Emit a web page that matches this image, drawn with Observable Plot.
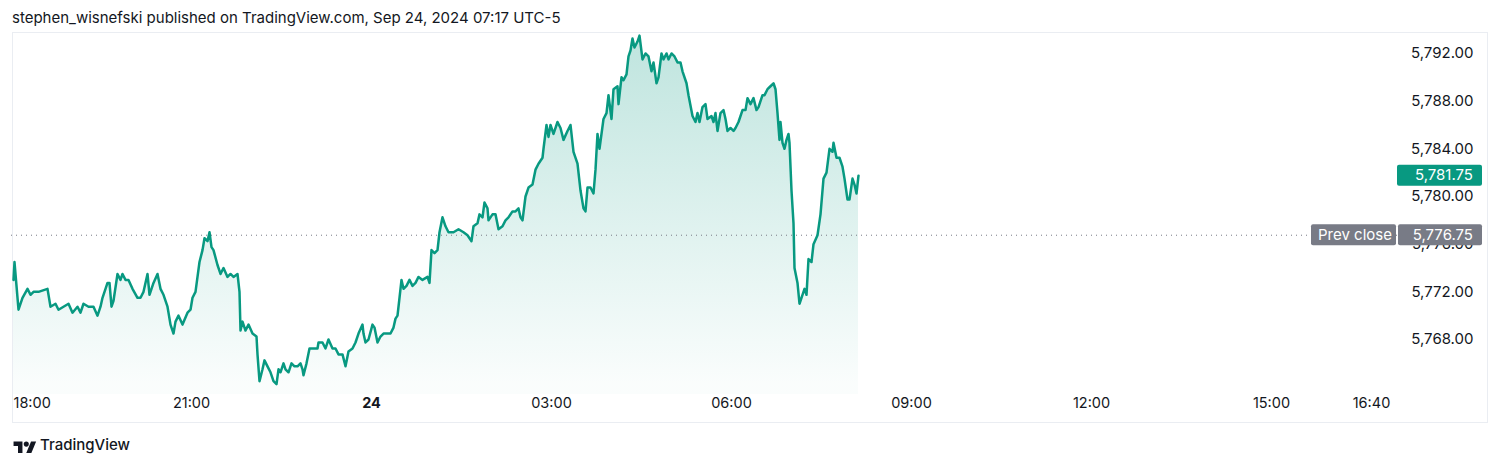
<!DOCTYPE html>
<html>
<head>
<meta charset="utf-8">
<script src="https://cdn.jsdelivr.net/npm/d3@7"></script>
<script src="https://cdn.jsdelivr.net/npm/@observablehq/plot@0.6"></script>
<style>
  html, body { margin: 0; padding: 0; background: #ffffff; }
  body { width: 1500px; height: 466px; overflow: hidden; font-family: Inter, "Noto Sans", sans-serif; color: #131722; }
  #header { height: 32px; position: relative; }
  #header span { position: absolute; left: 12px; top: 8px; font-size: 15px; white-space: nowrap; }
  #chart svg { display: block; }
  #footer { height: 42px; position: relative; }
  #footer svg { position: absolute; left: 12px; top: 15px; }
  #footer span { position: absolute; left: 40px; top: 11px; font-size: 15px; font-weight: 500; }
</style>
</head>
<body>
<div id="header"><span>stephen_wisnefski published on TradingView.com, Sep 24, 2024 07:17 UTC-5</span></div>
<div id="chart"></div>
<div id="footer"><svg width="26" height="14" viewBox="0 0 36 22"><path d="M14 22H7V11H0V4h14v18z" fill="#131722"/><circle cx="20" cy="8" r="4" fill="#131722"/><path d="M28 22h-8l7.5-18h8L28 22z" fill="#131722"/></svg><span>TradingView</span></div>
<script>
// ---- data (minutes after the 18:00 session open, ES price) ----
const minutesFrom1800 = [
  2,3,7,11,16,19,22,27,36,39,
  44,47,52,57,61,66,69,72,77,82,
  86,89,91,96,98,100,102,106,109,111,
  114,117,121,126,129,132,136,138,142,146,
  149,152,156,159,162,164,167,171,176,179,
  181,184,186,188,191,193,196,198,200,202,
  206,209,212,216,219,222,226,228,229,231,
  234,237,241,245,246,248,251,253,256,259,
  262,265,267,269,272,274,277,280,283,286,
  289,291,292,295,298,302,306,307,311,314,
  317,321,324,327,331,334,337,341,344,347,
  351,352,354,357,361,363,366,369,372,376,
  379,382,384,386,388,390,392,395,398,401,
  404,407,411,416,418,420,423,426,428,431,
  434,437,442,447,452,456,460,462,466,468,
  471,473,476,477,481,484,487,491,494,497,
  501,504,507,509,511,514,517,521,524,527,
  531,532,535,537,539,542,546,549,552,556,
  559,562,566,569,572,574,576,579,582,584,
  586,588,592,595,597,600,602,606,607,610,
  612,615,617,619,621,623,626,628,631,634,
  637,640,642,645,647,650,652,655,657,660,
  663,666,669,671,675,677,681,684,686,688,
  691,694,696,700,702,704,706,709,712,714,
  716,719,722,724,727,731,734,736,739,742,
  745,747,751,753,756,759,762,764,766,768,
  769,771,773,775,777,778,780,782,783,786,
  788,791,793,795,797,800,802,806,809,812,
  815,818,821,822,825,828,831,833,836,838,
  841,843,845,847
];
const prices = [
  5773.00,5774.50,5770.50,5771.50,5772.25,5771.75,5772.00,5772.00,5772.25,5770.75,
  5771.00,5770.50,5770.75,5771.00,5770.25,5770.75,5770.25,5771.00,5770.75,5770.75,
  5770.00,5770.75,5771.50,5772.75,5772.75,5770.75,5771.25,5773.50,5773.00,5773.50,
  5773.00,5773.00,5772.25,5771.50,5771.50,5772.00,5773.50,5771.75,5772.75,5773.50,
  5772.25,5771.75,5770.75,5769.25,5768.50,5769.50,5770.00,5769.25,5770.25,5770.50,
  5771.50,5772.00,5773.25,5774.50,5775.50,5776.50,5776.25,5777.00,5775.75,5775.50,
  5774.25,5773.50,5774.00,5773.25,5773.50,5773.25,5773.50,5772.00,5768.75,5769.50,
  5768.75,5769.25,5768.50,5768.25,5766.75,5764.50,5765.50,5766.25,5765.75,5765.25,
  5764.50,5764.25,5765.50,5765.25,5766.00,5765.50,5765.25,5766.00,5765.75,5765.75,
  5766.00,5765.50,5765.00,5766.00,5767.25,5767.25,5767.25,5767.75,5767.75,5767.25,
  5768.00,5767.25,5767.25,5766.75,5766.75,5765.75,5767.00,5767.25,5767.75,5768.50,
  5769.25,5768.50,5767.75,5768.00,5769.25,5769.00,5767.75,5768.25,5768.50,5768.50,
  5768.50,5769.00,5769.75,5770.00,5771.50,5773.00,5772.25,5772.50,5773.00,5772.50,
  5772.75,5773.25,5773.00,5773.25,5772.75,5775.50,5775.25,5775.50,5777.00,5778.25,
  5777.50,5777.00,5777.00,5777.25,5777.00,5776.75,5776.25,5777.50,5777.75,5778.50,
  5778.25,5779.50,5779.00,5778.00,5778.50,5778.50,5777.25,5777.50,5778.00,5778.25,
  5778.75,5778.75,5779.00,5778.25,5778.00,5780.00,5780.75,5781.00,5782.25,5782.75,
  5783.25,5784.00,5786.00,5785.00,5786.00,5785.25,5786.25,5785.75,5784.75,5785.50,
  5786.00,5783.75,5782.75,5780.50,5779.00,5778.75,5780.75,5780.75,5780.25,5782.25,
  5785.25,5784.00,5786.50,5787.00,5788.50,5786.50,5789.00,5789.25,5787.75,5790.00,
  5789.75,5790.25,5791.75,5792.25,5793.25,5792.50,5793.00,5793.50,5791.50,5792.00,
  5791.75,5790.50,5791.25,5789.50,5790.00,5792.00,5791.50,5792.00,5791.50,5792.00,
  5791.75,5791.25,5791.25,5790.50,5789.50,5788.50,5786.75,5786.25,5787.00,5786.25,
  5787.50,5787.75,5786.50,5786.75,5786.25,5787.00,5785.50,5787.00,5787.25,5786.50,
  5785.50,5785.75,5785.50,5785.75,5786.25,5787.25,5787.25,5788.25,5787.75,5788.25,
  5787.25,5787.50,5788.50,5788.50,5789.00,5789.25,5789.50,5789.00,5787.00,5784.75,
  5786.25,5784.50,5784.00,5784.75,5785.25,5784.50,5780.50,5777.75,5774.00,5772.75,
  5771.00,5771.75,5772.25,5771.75,5774.75,5774.50,5776.00,5776.75,5778.50,5781.50,
  5782.00,5784.00,5783.75,5784.50,5783.25,5783.25,5782.50,5781.50,5779.75,5779.75,
  5781.50,5781.00,5780.25,5781.75
];
const priceTicks = [5768, 5772, 5776, 5780, 5784, 5788, 5792];
const timeTickLabels = ["18:00", "21:00", "24", "03:00", "06:00", "09:00", "12:00", "15:00", "16:40"];
const timeTickMinutes = [0, 180, 360, 540, 720, 900, 1080, 1260, 1360];
const prevClose = 5776.75;
const lastPrice = 5781.75;
const prevCloseLabel = "Prev close";

// ---- scale configuration ----
const sessionStart = new Date(2024, 8, 23, 18, 0);
const toDate = m => new Date(sessionStart.getTime() + m * 60000);
const xDomain = [toDate(0), toDate(1386)];
const yDomain = [5763.385, 5793.76];

const data = minutesFrom1800.map((m, i) => ({t: toDate(m), price: prices[i]}));
const timeTicks = timeTickMinutes.map((m, i) => ({t: toDate(m), label: timeTickLabels[i]}));

const fmt = d3.format(",.2f");
const teal = "#089981";
const textColor = "#131722";

function defsMark(index, scales, values, dims) {
  const g = d3.create("svg:g");
  const defs = g.append("defs");
  const grad = defs.append("linearGradient")
    .attr("id", "areaGrad")
    .attr("gradientUnits", "userSpaceOnUse")
    .attr("x1", 0).attr("x2", 0)
    .attr("y1", scales.y(d3.max(prices)))
    .attr("y2", scales.y(d3.min(prices)));
  grad.append("stop").attr("offset", 0).attr("stop-color", teal).attr("stop-opacity", 0.26);
  grad.append("stop").attr("offset", 1).attr("stop-color", teal).attr("stop-opacity", 0.02);
  // outer chart border
  g.append("rect")
    .attr("x", 12.5).attr("y", 0.5)
    .attr("width", dims.width - 25).attr("height", dims.height - 2)
    .attr("fill", "none").attr("stroke", "#eaedf2").attr("stroke-width", 1);
  return g.node();
}

function priceBoxes(index, scales, values, dims) {
  const g = d3.create("svg:g").attr("font-size", 15).attr("text-anchor", "start");
  const xr = dims.width - dims.marginRight;
  // prev close label
  const yp = scales.y(prevClose);
  g.append("rect").attr("x", xr - 86).attr("y", yp - 10.5).attr("width", 85).attr("height", 21)
    .attr("rx", 2).attr("fill", "#787b86");
  g.append("text").attr("x", xr - 79).attr("y", yp).attr("dy", "0.35em")
    .attr("text-anchor", "start").attr("fill", "#ffffff").text(prevCloseLabel);
  g.append("rect").attr("x", xr + 1).attr("y", yp - 10.5).attr("width", 84).attr("height", 21)
    .attr("rx", 2).attr("fill", "#787b86");
  g.append("text").attr("x", xr + 76).attr("y", yp).attr("dy", "0.35em")
    .attr("text-anchor", "end").attr("fill", "#ffffff").text(fmt(prevClose));
  // last price label
  const yl = scales.y(lastPrice);
  g.append("rect").attr("x", xr).attr("y", yl - 10.5).attr("width", 85).attr("height", 21)
    .attr("rx", 2).attr("fill", teal);
  g.append("text").attr("x", xr + 76).attr("y", yl).attr("dy", "0.35em")
    .attr("text-anchor", "end").attr("fill", "#ffffff").text(fmt(lastPrice));
  return g.node();
}

const chart = Plot.plot({
  width: 1500,
  height: 392,
  marginLeft: 11,
  marginRight: 103,
  marginTop: 0,
  marginBottom: 30,
  style: {fontFamily: "Inter, 'Noto Sans', sans-serif", fontSize: "15px", color: textColor, background: "#ffffff", overflow: "visible"},
  x: {type: "time", domain: xDomain, axis: null},
  y: {type: "linear", domain: yDomain, axis: null},
  marks: [
    defsMark,
    Plot.area(data, {x1: "t", y1: yDomain[0], y2: "price", fill: "url(#areaGrad)"}),
    Plot.ruleY([prevClose], {stroke: "#787b86", strokeWidth: 1, strokeDasharray: "1,4"}),
    Plot.line(data, {x: "t", y: "price", stroke: teal, strokeWidth: 2.5, strokeLinejoin: "round", curve: "linear"}),
    Plot.text(priceTicks, {y: d => d, text: d => fmt(d), frameAnchor: "right", dx: 76, textAnchor: "end", fill: textColor, fontSize: 15}),
    Plot.text(timeTicks, {filter: d => d.label === "18:00", x: "t", text: "label", frameAnchor: "bottom", dy: 13, textAnchor: "start", dx: 2, fill: textColor, fontSize: 14.5}),
    Plot.text(timeTicks, {filter: d => d.label === "24", x: "t", text: "label", frameAnchor: "bottom", dy: 13, fill: textColor, fontSize: 14.5, fontWeight: "bold"}),
    Plot.text(timeTicks, {filter: d => d.label !== "18:00" && d.label !== "24", x: "t", text: "label", frameAnchor: "bottom", dy: 13, fill: textColor, fontSize: 14.5}),
    priceBoxes
  ]
});
document.getElementById("chart").appendChild(chart);
</script>
</body>
</html>
